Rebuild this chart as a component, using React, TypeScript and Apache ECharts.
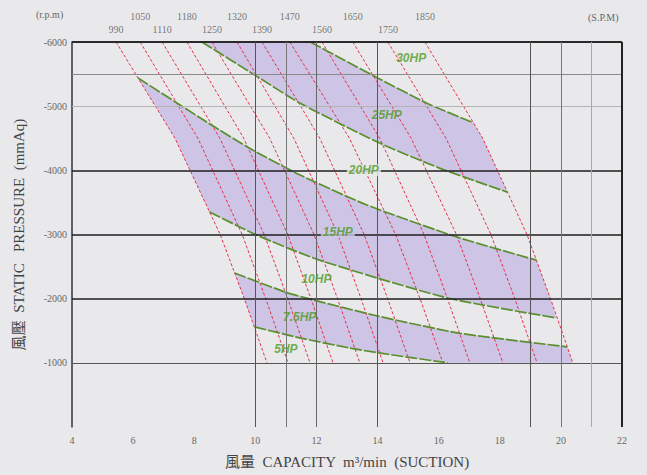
import React, { useEffect, useRef } from 'react';
import * as echarts from 'echarts';

// ---- data ----
const rpmValues = [990, 1050, 1110, 1180, 1250, 1320, 1390, 1470, 1560, 1650, 1750, 1850];
const rpmPressures = [6000, 4500, 3000, 2000, 1000];
const rpmCapacities = [
  [5.44, 7.37, 8.85, 9.64, 10.38],
  [6.23, 8.12, 9.57, 10.34, 11.07],
  [6.95, 8.84, 10.29, 11.06, 11.79],
  [7.76, 9.62, 11.06, 11.82, 12.54],
  [8.58, 10.47, 11.92, 12.69, 13.42],
  [9.4, 11.26, 12.7, 13.46, 14.18],
  [10.22, 12.11, 13.56, 14.33, 15.06],
  [11.13, 13.08, 14.59, 15.39, 16.14],
  [12.18, 14.07, 15.52, 16.29, 17.02],
  [13.19, 15.1, 16.58, 17.36, 18.1],
  [14.34, 16.24, 17.71, 18.49, 19.22],
  [15.55, 17.44, 18.89, 19.66, 20.39],
];

const hpCurveA = [[11.8, 6000], [12.9, 5720], [14.0, 5440], [15.6, 5050], [17.14, 4740]];
const hpCurveB = [[8.25, 6000], [10.0, 5480], [11.45, 5050], [14.0, 4440], [16.05, 4030], [18.25, 3660]];
const hpCurveC = [[6.16, 5440], [8.45, 4740], [9.9, 4320], [11.45, 3930], [13.65, 3460], [16.6, 2960], [19.2, 2600]];
const hpCurveD = [[8.5, 3350], [10.05, 2990], [12.1, 2600], [16.3, 2010], [19.85, 1700]];
const hpCurveE = [[9.32, 2400], [11.0, 2100], [11.9, 1980], [14.0, 1730], [16.7, 1460], [20.2, 1250]];
const hpCurveF = [[9.97, 1560], [11.45, 1390], [13.1, 1230], [14.1, 1150], [16.3, 1000]];

const hpLabels = ['30HP', '25HP', '20HP', '15HP', '10HP', '7.5HP', '5HP'];
const hpLabelCapacity = [15.1, 14.3, 13.55, 12.7, 12.0, 11.45, 11.0];
const hpLabelPressure = [5750, 4870, 4000, 3040, 2310, 1720, 1220];

const hGridValues = [6000, 5500, 5000, 4000, 3000, 2000, 1000];
const vGridValues = [10, 11, 12, 14, 19, 20, 21, 22];

const PURPLE = '#cdc4e6';
const BG = '#e9e9eb';
const SERIF = "'Liberation Serif', 'DejaVu Serif', 'Noto Sans CJK TC', serif";

export default function App() {
  const ref = useRef<HTMLDivElement>(null);
  useEffect(() => {
    const chart = echarts.init(ref.current!, null, { renderer: 'svg' });

    const rpmLines = rpmCapacities.map((caps) => caps.map((c, i) => [c, rpmPressures[i]]));
    const leftLine = rpmLines[0];
    const rightLine = rpmLines[rpmLines.length - 1];
    const between = (line: number[][], lo: number, hi: number) =>
      line.filter((p) => p[1] > lo && p[1] < hi);
    const last = (a: number[][]) => a[a.length - 1];
    const rev = (a: number[][]) => [...a].reverse();

    const zoneAB = [
      ...hpCurveA,
      ...between(rightLine, last(hpCurveB)[1], last(hpCurveA)[1]),
      ...rev(hpCurveB),
    ];
    const zoneCD = [
      ...hpCurveC,
      ...between(rightLine, last(hpCurveD)[1], last(hpCurveC)[1]),
      ...rev(hpCurveD),
      ...rev(between(leftLine, hpCurveD[0][1], hpCurveC[0][1])),
    ];
    const zoneEF = [
      ...hpCurveE,
      ...rightLine.filter((p) => p[1] < last(hpCurveE)[1] && p[1] >= 1000),
      ...rev(hpCurveF),
      ...rev(between(leftLine, hpCurveF[0][1], hpCurveE[0][1])),
    ];
    const zones = [zoneAB, zoneCD, zoneEF];

    const hStyle: Record<number, [string, number]> = {
      6000: ['#2a2a2a', 2],
      5500: ['#8a8a8a', 1],
      5000: ['#b4b4b4', 1],
      4000: ['#1e1e1e', 1.5],
      3000: ['#1e1e1e', 1.5],
      2000: ['#1e1e1e', 1.5],
      1000: ['#555555', 1],
    };
    const vStyle: Record<number, [string, number]> = {
      10: ['#555555', 1],
      11: ['#777777', 1],
      12: ['#666666', 1],
      14: ['#555555', 1],
      19: ['#555555', 1],
      20: ['#777777', 1],
      21: ['#aaaaaa', 1],
      22: ['#222222', 2],
    };

    const greenCurves = [hpCurveA, hpCurveB, hpCurveC, hpCurveD, hpCurveE, hpCurveF];

    const option: any = {
      animation: false,
      backgroundColor: BG,
      grid: { left: 72, right: 25, top: 42, bottom: 48 },
      xAxis: {
        type: 'value',
        min: 4,
        max: 22,
        interval: 2,
        name: '風量  CAPACITY  m³/min  (SUCTION)',
        nameLocation: 'middle',
        nameGap: 27,
        nameTextStyle: { fontFamily: SERIF, fontSize: 15, color: '#444' },
        axisLine: { show: false },
        axisTick: { show: false },
        splitLine: { show: false },
        axisLabel: { color: '#666', fontSize: 10, fontFamily: SERIF, margin: 8 },
      },
      yAxis: {
        type: 'value',
        min: 0,
        max: 6000,
        interval: 1000,
        name: '風壓  STATIC   PRESSURE  (mmAq)',
        nameLocation: 'middle',
        nameGap: 46,
        nameRotate: 90,
        nameTextStyle: { fontFamily: SERIF, fontSize: 15, color: '#444' },
        axisLine: { show: true, lineStyle: { color: '#333', width: 1.5 } },
        axisTick: { show: false },
        splitLine: { show: false },
        axisLabel: {
          color: '#666',
          fontSize: 10,
          fontFamily: SERIF,
          margin: 5,
          formatter: (v: number) => (v === 0 ? '' : '-' + v),
        },
      },
      graphic: [
        { type: 'text', left: 36, top: 9, style: { text: '(r.p.m)', fontFamily: SERIF, fontSize: 10, fill: '#666' } },
        { type: 'text', left: 588, top: 12, style: { text: '(S.P.M)', fontFamily: SERIF, fontSize: 10, fill: '#666' } },
      ],
      series: [
        {
          type: 'custom',
          z: 1,
          silent: true,
          data: zones.map((_, i) => [i]),
          renderItem: (params: any, api: any) => {
            const pts = zones[params.dataIndex].map((p) => api.coord(p));
            return { type: 'polygon', shape: { points: pts }, style: { fill: PURPLE } };
          },
        },
        {
          type: 'line',
          z: 2,
          silent: true,
          data: [[4, 0]],
          showSymbol: false,
          lineStyle: { opacity: 0 },
          markLine: {
            silent: true,
            symbol: ['none', 'none'],
            label: { show: false },
            data: [
              ...hGridValues.map((v) => ({
                yAxis: v,
                lineStyle: { color: hStyle[v][0], width: hStyle[v][1], type: 'solid' },
              })),
              ...vGridValues.map((v) => ({
                xAxis: v,
                lineStyle: { color: vStyle[v][0], width: vStyle[v][1], type: 'solid' },
              })),
            ],
          },
        },
        ...rpmLines.map((line, i) => ({
          type: 'line',
          name: String(rpmValues[i]),
          z: 3,
          silent: true,
          data: line,
          showSymbol: false,
          lineStyle: { color: '#e5304a', width: 1, type: [3, 2] },
        })),
        ...greenCurves.map((c) => ({
          type: 'line',
          z: 4,
          silent: true,
          data: c,
          showSymbol: false,
          smooth: 0.2,
          lineStyle: { color: '#5a8f2c', width: 1.7, type: [12, 2] },
        })),
        {
          type: 'scatter',
          z: 5,
          silent: true,
          symbolSize: 0,
          data: rpmValues.map((r, i) => ({
            value: [rpmCapacities[i][0], rpmPressures[0], r],
            label: {
              show: true,
              position: 'top',
              distance: i % 2 === 1 ? 21 : 8,
              formatter: String(r),
              color: '#555',
              fontSize: 10,
              fontFamily: SERIF,
            },
          })),
        },
        {
          type: 'scatter',
          z: 6,
          silent: true,
          symbolSize: 0,
          data: hpLabels.map((t, i) => ({
            value: [hpLabelCapacity[i], hpLabelPressure[i]],
            label: {
              show: true,
              position: 'inside',
              formatter: t,
              color: '#4f9a24',
              fontSize: 12,
              fontStyle: 'italic',
              fontWeight: 'bold',
              fontFamily: "'Liberation Sans', Arial, sans-serif",
              padding: [0, 2],
              backgroundColor: t === '15HP' ? PURPLE : t === '20HP' ? BG : 'transparent',
            },
          })),
        },
      ],
    };
    chart.setOption(option);
    return () => chart.dispose();
  }, []);
  return (
    <div
      ref={ref}
      style={{ position: 'fixed', left: 0, top: 0, width: 647, height: 475, background: BG }}
    />
  );
}
